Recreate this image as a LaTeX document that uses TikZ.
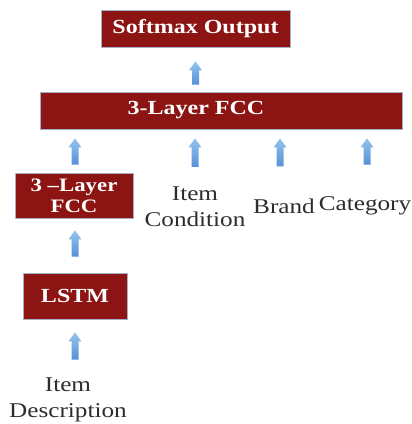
\documentclass[tikz,border=0pt]{standalone}
\usepackage{fontspec}
\setmainfont[FakeStretch=1.2]{Liberation Serif}
\usetikzlibrary{calc,shadows}
\definecolor{boxred}{RGB}{140,20,18}
\definecolor{boxedge}{RGB}{165,175,200}
\definecolor{txt}{RGB}{45,45,45}
\definecolor{arrtop}{RGB}{150,195,235}
\definecolor{arrbot}{RGB}{85,145,215}
\newcommand{\uparr}[2]{%
  \path let \p1=#1, \p2=#2 in
    [top color=arrtop, bottom color=arrbot]
    (\x1-3.5pt,\y1) -- (\x1+3.5pt,\y1) -- (\x1+3.5pt,\y2-9pt) -- (\x1+6.5pt,\y2-9pt)
    -- (\x1,\y2) -- (\x1-6.5pt,\y2-9pt) -- (\x1-3.5pt,\y2-9pt) -- cycle;}
\begin{document}
\begin{tikzpicture}[x=1pt,y=-1pt,
  redbox/.style={draw=boxedge, line width=0.8pt, fill=boxred, text=white,
    font=\fontsize{20}{22}\selectfont\bfseries, inner sep=0pt, align=center,
    drop shadow={shadow xshift=1pt, shadow yshift=-1pt, opacity=0.25}},
  lbl/.style={text=txt, font=\fontsize{21}{26}\selectfont, inner sep=0pt, align=center}]
\useasboundingbox[fill=white] (0,0) rectangle (412,424);
\node[redbox, minimum width=189pt, minimum height=37pt] (soft) at (195.5,28.5) {Softmax Output};
\node[redbox, minimum width=362pt, minimum height=37pt] (fcc) at (221,110.5) {\hspace*{-50pt}3-Layer FCC};
\node[redbox, minimum width=118pt, minimum height=45pt, font=\fontsize{19}{21}\selectfont\bfseries] (fccs) at (74,195.5) {3 –Layer\\FCC};
\node[redbox, minimum width=104pt, minimum height=46pt] (lstm) at (75,296) {LSTM};
\node[lbl] (cond) at (195,207) {Item\\Condition};
\node[lbl] (brand) at (284,206) {Brand};
\node[lbl] (cat) at (365,206) {Category};
\node[lbl] (desc) at (68,400) {Item\\Description};
\uparr{($(fcc.north-|soft)+(0,-7)$)}{($(soft.south)+(0,14)$)}
\uparr{($(fccs.north)+(1,-8)$)}{($(fccs.north|-fcc.south)+(1,9)$)}
\uparr{($(cond.north)+(0,-20)$)}{($(cond.north|-fcc.south)+(0,9)$)}
\uparr{($(brand.north)+(-4,-32)$)}{($(brand.north|-fcc.south)+(-4,9)$)}
\uparr{($(cat.north)+(2,-32)$)}{($(cat.north|-fcc.south)+(2,9)$)}
\uparr{($(lstm.north)+(0,-16)$)}{($(fccs.south)+(1,12)$)}
\uparr{($(desc.north-|lstm.south)+(0,-18)$)}{($(lstm.south)+(0,13)$)}
\end{tikzpicture}
\end{document}
